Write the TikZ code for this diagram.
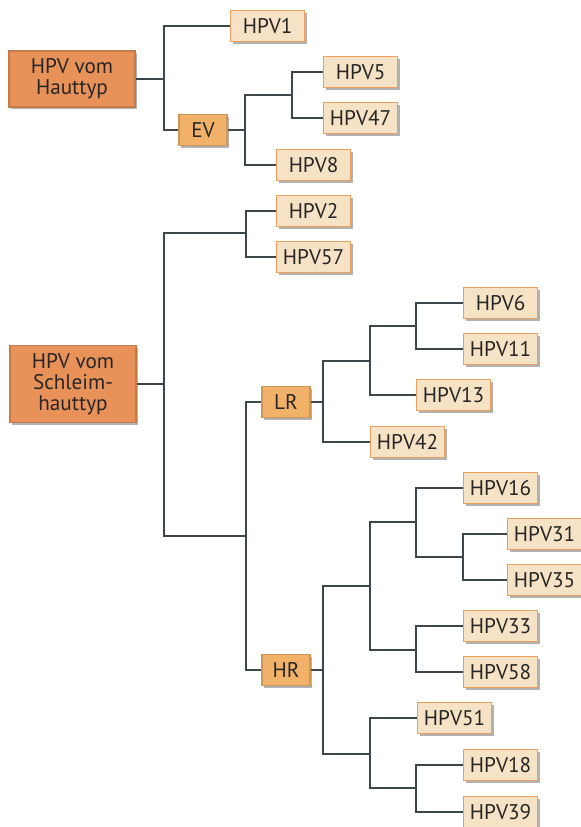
\documentclass[tikz,border=0pt]{standalone}
\usepackage{fontspec}
\setmainfont{PT Sans}
\usetikzlibrary{shadows}
\definecolor{leaffill}{HTML}{F6E2C4}
\definecolor{leafline}{HTML}{EBA060}
\definecolor{cladefill}{HTML}{F2B168}
\definecolor{rootfill}{HTML}{E8925A}
\definecolor{linegray}{HTML}{3C474B}
\definecolor{textgray}{HTML}{262626}
\newcommand\leafwidth{37pt}
\newcommand\boxheight{15.5pt}

\tikzset{
  box/.style={draw=leafline, line width=0.6pt, text=textgray,
    font=\fontsize{10.6}{10.6}\selectfont, inner sep=0pt,
    minimum height=\boxheight, align=center,
    drop shadow={shadow xshift=1.1pt, shadow yshift=-1.1pt, fill=black!60}},
  leaf/.style={box, fill=leaffill, minimum width=\leafwidth, anchor=west},
  clade/.style={box, fill=cladefill, draw=cladefill!85!black, minimum width=24pt},
  family/.style={box, fill=rootfill, draw=rootfill!85!black, minimum width=63pt},
  branch/.style={draw=linegray, line width=1pt},
}

\begin{document}
\begin{tikzpicture}[x=0.5pt,y=-0.5pt]
    \useasboundingbox (0,0) rectangle (581,827);

    % Hauttyp
    \node[family,minimum height=28pt] (haut) at (72,79) {HPV vom\\Hauttyp};
    \node[leaf] (hpv1) at (230,26) {HPV1};
    \node[clade] (ev) at (203,130) {EV};
    \node[leaf] (hpv5) at (323,72) {HPV5};
    \node[leaf] (hpv47) at (323,118) {HPV47};
    \node[leaf] (hpv8) at (276,165) {HPV8};

    \coordinate (hautfork) at (164,79);
    \coordinate (evfork) at (245,130);
    \coordinate (hpv5fork) at (292,95);

    \draw[branch] (haut.east) -- (hautfork) |- (hpv1.west);
    \draw[branch] (hautfork) |- (ev.west);
    \draw[branch] (ev.east) -- (evfork) |- (hpv5fork) |- (hpv5.west);
    \draw[branch] (hpv5fork) |- (hpv47.west);
    \draw[branch] (evfork) |- (hpv8.west);

    % Schleimhauttyp
    \node[family,minimum height=38.5pt] (schleim) at (73,384) {HPV vom\\Schleim-\\hauttyp};
    \node[leaf] (hpv2) at (276,211) {HPV2};
    \node[leaf] (hpv57) at (276,257) {HPV57};
    \node[clade] (lr) at (286,402) {LR};
    \node[clade] (hr) at (286,670) {HR};

    \node[leaf] (hpv6) at (463,303) {HPV6};
    \node[leaf] (hpv11) at (463,349) {HPV11};
    \node[leaf] (hpv13) at (416,395) {HPV13};
    \node[leaf] (hpv42) at (370,442) {HPV42};

    \node[leaf] (hpv16) at (463,488) {HPV16};
    \node[leaf] (hpv31) at (507,534) {HPV31};
    \node[leaf] (hpv35) at (507,580) {HPV35};
    \node[leaf] (hpv33) at (463,626) {HPV33};
    \node[leaf] (hpv58) at (463,672) {HPV58};
    \node[leaf] (hpv51) at (417,718) {HPV51};
    \node[leaf] (hpv18) at (463,765) {HPV18};
    \node[leaf] (hpv39) at (463,812) {HPV39};

    \coordinate (schleimfork) at (164,384);
    \coordinate (topfork) at (246,233);
    \coordinate (riskfork) at (246,536);
    \coordinate (lrfork) at (323,402);
    \coordinate (lrsub) at (370,361);
    \coordinate (hpv6fork) at (416,326);
    \coordinate (hrfork) at (323,670);
    \coordinate (hrupper) at (370,586);
    \coordinate (hrlower) at (370,754);
    \coordinate (hpv16fork) at (416,522);
    \coordinate (hpv31fork) at (463,557);
    \coordinate (hpv33fork) at (416,650);
    \coordinate (hpv18fork) at (416,788);

    \draw[branch] (schleim.east) -- (schleimfork) |- (topfork) |- (hpv2.west);
    \draw[branch] (topfork) |- (hpv57.west);
    \draw[branch] (schleimfork) |- (riskfork) |- (lr.west);
    \draw[branch] (riskfork) |- (hr.west);

    \draw[branch] (lr.east) -- (lrfork) |- (lrsub) |- (hpv6fork) |- (hpv6.west);
    \draw[branch] (hpv6fork) |- (hpv11.west);
    \draw[branch] (lrsub) |- (hpv13.west);
    \draw[branch] (lrfork) |- (hpv42.west);

    \draw[branch] (hr.east) -- (hrfork) |- (hrupper) |- (hpv16fork) |- (hpv16.west);
    \draw[branch] (hpv16fork) |- (hpv31fork) |- (hpv31.west);
    \draw[branch] (hpv31fork) |- (hpv35.west);
    \draw[branch] (hrupper) |- (hpv33fork) |- (hpv33.west);
    \draw[branch] (hpv33fork) |- (hpv58.west);
    \draw[branch] (hrfork) |- (hrlower) |- (hpv51.west);
    \draw[branch] (hrlower) |- (hpv18fork) |- (hpv18.west);
    \draw[branch] (hpv18fork) |- (hpv39.west);
\end{tikzpicture}
\end{document}
